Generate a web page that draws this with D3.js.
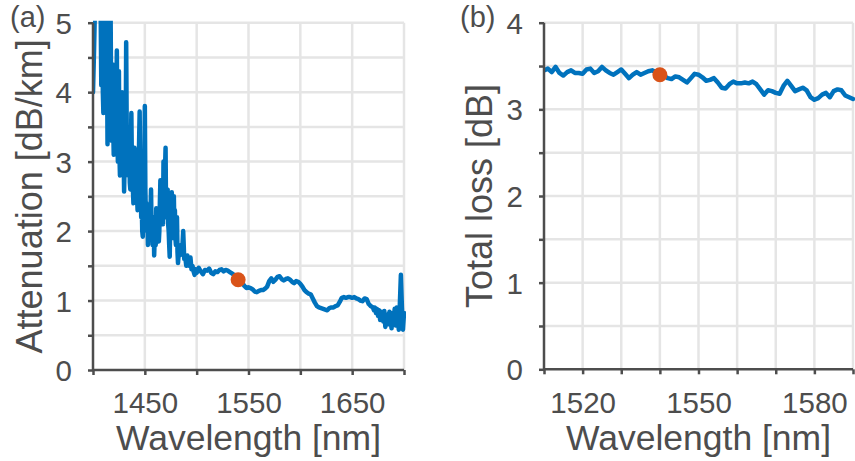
<!DOCTYPE html>
<html>
<head>
<meta charset="utf-8">
<script src="https://cdn.jsdelivr.net/npm/d3@7"></script>
<style>
  html, body { margin: 0; padding: 0; background: #fff; }
  svg { display: block; }
  text { font-family: "Liberation Sans", Arial, Helvetica, sans-serif; fill: #4d4d4d; }
</style>
</head>
<body>
<svg id="chart" width="855" height="461"></svg>
<script>
// (a) fibre attenuation spectrum: [wavelength nm, attenuation dB/km]
const attenuationA = [
  [1400,4.0],[1401,4.6],[1402,5.3],[1403,5.8],[1404,6.2],[1405,6.5],[1406,6.3],[1407,5.9],
  [1408,4.1],[1408.5,5.4],[1409,5.6],[1409.5,4.0],[1410,3.7],[1410.5,5.2],[1411,5.8],[1411.5,4.8],
  [1412,4.4],[1412.5,3.9],[1413,5.5],[1413.5,4.6],[1414,3.25],[1414.5,4.9],[1415,5.3],[1415.5,3.8],
  [1416,3.6],[1416.5,4.6],[1417,5.1],[1417.5,3.9],[1418,3.3],[1418.5,4.2],[1419,4.4],[1419.5,3.5],
  [1420,3.1],[1420.5,3.6],[1421,3.9],[1421.5,3.3],[1422,3.15],[1422.5,3.8],[1423,4.6],[1423.5,3.4],
  [1424,3.0],[1424.5,3.9],[1425,4.3],[1425.5,3.1],[1426,2.8],[1426.5,3.3],[1427,3.5],[1427.5,3.1],
  [1428,4.0],[1428.5,3.3],[1429,2.9],[1429.5,3.2],[1430,2.57],[1430.5,3.0],[1431,3.6],[1431.5,3.1],
  [1432,4.72],[1432.5,3.5],[1433,3.2],[1433.5,2.9],[1434,2.8],[1434.5,3.1],[1435,3.3],[1435.5,2.7],
  [1436,2.6],[1436.5,3.1],[1437,3.7],[1437.5,3.0],[1438,2.9],[1438.5,2.6],[1439,2.4],[1439.5,2.9],
  [1440,3.2],[1440.5,2.5],[1441,2.7],[1441.5,2.9],[1442,3.0],[1442.5,2.5],[1443,2.3],[1443.5,2.7],
  [1444,2.9],[1444.5,3.3],[1445,3.72],[1445.5,2.8],[1446,2.6],[1446.5,2.2],[1447,2.4],[1447.5,2.0],
  [1448,1.92],[1448.5,2.3],[1449,2.5],[1449.5,2.9],[1450,3.8],[1450.5,2.6],[1451,2.2],[1451.5,2.4],
  [1452,2.0],[1452.5,2.2],[1453,1.8],[1453.5,2.1],[1454,2.3],[1454.5,1.9],[1455,2.0],[1455.5,2.3],
  [1456,2.6],[1456.5,2.0],[1457,2.1],[1457.5,1.8],[1458,1.9],[1458.5,2.2],[1459,1.65],[1459.5,1.9],
  [1460,2.1],[1460.5,1.8],[1461,2.33],[1461.5,2.0],[1462,1.9],[1462.5,2.1],[1463,2.2],[1463.5,1.85],
  [1464,2.0],[1464.5,2.4],[1465,2.73],[1465.5,2.1],[1466,2.2],[1466.5,2.6],[1467,2.5],[1467.5,2.1],
  [1468,3.0],[1468.5,2.5],[1469,2.4],[1469.5,2.9],[1470,3.2],[1470.5,2.2],[1471,2.3],[1471.5,2.5],
  [1472,2.6],[1472.5,2.1],[1473,2.0],[1473.5,1.8],[1474,1.63],[1474.5,2.1],[1475,2.4],[1475.5,2.0],
  [1476,2.56],[1476.5,2.2],[1477,1.9],[1477.5,2.2],[1478,2.5],[1478.5,2.0],[1479,2.3],[1479.5,1.9],
  [1480,1.8],[1480.5,2.0],[1481,2.2],[1481.5,1.7],[1482,1.54],[1483,1.75],[1484,1.65],[1485,1.8],
  [1486,1.7],[1487,2.0],[1488,1.6],[1489,1.62],[1490,1.5],[1491,1.65],[1492,1.55],[1493,1.5],
  [1494,1.62],[1495,1.45],[1496,1.5],[1497,1.42],[1498,1.37],[1499,1.45],[1500,1.40],
  [1502,1.47],[1504,1.42],[1506,1.38],[1508,1.44],[1510,1.43],[1512,1.46],[1514,1.40],[1516,1.38],
  [1518,1.42],[1520,1.41],[1522,1.44],[1524,1.45],[1526,1.42],[1528,1.44],[1530,1.43],[1532,1.41],
  [1534,1.39],[1536,1.37],[1538,1.33],[1540,1.30],[1542,1.27],[1544,1.25],[1546,1.21],[1548,1.18],
  [1550,1.19],[1552,1.18],[1554,1.16],[1556,1.13],[1558,1.12],[1560,1.14],[1562,1.15],[1564,1.15],
  [1566,1.17],[1568,1.20],[1570,1.28],[1572,1.32],[1574,1.27],[1576,1.30],[1578,1.34],[1580,1.35],
  [1582,1.31],[1584,1.29],[1586,1.31],[1588,1.32],[1590,1.30],[1592,1.27],[1594,1.25],[1596,1.28],
  [1598,1.27],[1600,1.24],[1602,1.20],[1604,1.15],[1606,1.12],[1608,1.10],[1610,1.09],[1612,1.03],
  [1614,0.97],[1616,0.92],[1618,0.90],[1620,0.89],[1622,0.88],[1624,0.87],[1626,0.86],[1628,0.89],
  [1630,0.90],[1632,0.90],[1634,0.92],[1636,0.93],[1638,0.98],[1640,1.04],[1642,1.05],[1644,1.04],
  [1646,1.05],[1648,1.05],[1650,1.04],[1652,1.05],[1654,1.03],[1656,1.02],[1658,1.00],[1660,0.99],
  [1662,1.03],[1664,1.02],[1666,0.95],[1668,0.92],[1670,0.90],
  [1671,0.86],[1672,0.90],[1673,0.82],[1674,0.88],[1675,0.78],[1676,0.86],[1677,0.72],[1678,0.84],
  [1679,0.80],[1680,0.70],[1681,0.85],[1682,0.62],[1683,0.80],[1684,0.76],[1685,0.66],[1686,0.84],
  [1687,0.72],[1688,0.60],[1689,0.82],[1690,0.70],[1691,0.88],[1692,0.64],[1693,0.90],[1694,0.75],
  [1695,0.58],[1696,0.95],[1697,1.37],[1698,0.90],[1699,0.58],[1700,0.82]
];

// (b) total insertion loss: [wavelength nm, loss dB]
const lossB = [
  [1510,3.45],[1511,3.47],[1512,3.43],[1513,3.49],[1514,3.42],[1515,3.39],[1516,3.43],[1517,3.45],
  [1518,3.42],[1519,3.42],[1520,3.41],[1521,3.46],[1522,3.47],[1523,3.42],[1524,3.44],[1525,3.49],
  [1526,3.45],[1527,3.42],[1528,3.40],[1529,3.43],[1530,3.46],[1531,3.41],[1532,3.36],[1533,3.40],
  [1534,3.43],[1535,3.40],[1536,3.42],[1537,3.44],[1538,3.45],[1539,3.43],[1540,3.40],[1541,3.39],
  [1542,3.36],[1543,3.35],[1544,3.38],[1545,3.37],[1546,3.34],[1547,3.31],[1548,3.36],[1549,3.41],
  [1550,3.40],[1551,3.37],[1552,3.33],[1553,3.34],[1554,3.36],[1555,3.31],[1556,3.25],[1557,3.24],
  [1558,3.29],[1559,3.32],[1560,3.30],[1561,3.30],[1562,3.31],[1563,3.30],[1564,3.32],[1565,3.29],
  [1566,3.23],[1567,3.17],[1568,3.22],[1569,3.21],[1570,3.19],[1571,3.18],[1572,3.27],[1573,3.33],
  [1574,3.27],[1575,3.21],[1576,3.23],[1577,3.25],[1578,3.22],[1579,3.14],[1580,3.11],[1581,3.13],
  [1582,3.17],[1583,3.19],[1584,3.14],[1585,3.21],[1586,3.23],[1587,3.22],[1588,3.16],[1589,3.14],
  [1590,3.12]
];

// highlighted operating point at 1540 nm
const markerA = [1540, 1.30];
const markerB = [1540, 3.40];

// axis ranges and ticks
const xDomainA = [1400, 1700];
const xTicksA = [1400, 1450, 1500, 1550, 1600, 1650, 1700];
const xLabelsA = [1450, 1550, 1650];
const yDomainA = [0, 5];
const yTicksA = [0, 0.5, 1, 1.5, 2, 2.5, 3, 3.5, 4, 4.5, 5];
const yLabelsA = [0, 1, 2, 3, 4, 5];

const xDomainB = [1510, 1590];
const xTicksB = [1510, 1520, 1530, 1540, 1550, 1560, 1570, 1580, 1590];
const xLabelsB = [1520, 1550, 1580];
const yDomainB = [0, 4];
const yTicksB = [0, 0.5, 1, 1.5, 2, 2.5, 3, 3.5, 4];
const yLabelsB = [0, 1, 2, 3, 4];

const LINE = "#0072BD", DOT = "#D95319", AXIS = "#4d4d4d", GRID = "#e5e5e5";
const svg = d3.select("#chart");

function panel(opts) {
  const { id, left, right, top, bottom, xDomain, yDomain, xTicks, xLabels, yTicks, yLabels,
          data, marker, yTitle, yTitleX, tag, tagX } = opts;
  const x = d3.scaleLinear().domain(xDomain).range([left, right]);
  const y = d3.scaleLinear().domain(yDomain).range([bottom, top]);
  const g = svg.append("g");

  // grid
  g.append("g").selectAll("line").data(xTicks.filter(t => t !== xDomain[0])).join("line")
    .attr("x1", d => x(d)).attr("x2", d => x(d)).attr("y1", top).attr("y2", bottom)
    .attr("stroke", GRID).attr("stroke-width", 2.5);
  g.append("g").selectAll("line").data(yTicks.filter(t => t !== yDomain[0])).join("line")
    .attr("y1", d => y(d)).attr("y2", d => y(d)).attr("x1", left).attr("x2", right)
    .attr("stroke", GRID).attr("stroke-width", 2.5);

  // clipped data line
  svg.append("clipPath").attr("id", "clip-" + id).append("rect")
    .attr("x", left).attr("y", top - 2).attr("width", right - left + 2).attr("height", bottom - top + 2);
  const line = d3.line().x(d => x(d[0])).y(d => y(d[1]));
  g.append("path").datum(data).attr("d", line)
    .attr("clip-path", `url(#clip-${id})`)
    .attr("fill", "none").attr("stroke", LINE).attr("stroke-width", 4.5)
    .attr("stroke-linejoin", "round").attr("stroke-linecap", "round");

  g.append("circle").attr("cx", x(marker[0])).attr("cy", y(marker[1])).attr("r", 7.5).attr("fill", DOT);

  // axes
  const xAxis = d3.axisBottom(x).tickValues(xTicks).tickSize(5)
    .tickFormat(d => xLabels.includes(d) ? d : "");
  const yAxis = d3.axisLeft(y).tickValues(yTicks).tickSize(5)
    .tickFormat(d => yLabels.includes(d) ? d : "");
  const gx = g.append("g").attr("transform", `translate(0,${bottom})`).call(xAxis);
  const gy = g.append("g").attr("transform", `translate(${left},0)`).call(yAxis);
  [gx, gy].forEach(a => {
    a.select(".domain").attr("stroke", AXIS).attr("stroke-width", 2.5);
    a.selectAll(".tick line").attr("stroke", AXIS).attr("stroke-width", 2.5);
    a.selectAll(".tick text").attr("fill", AXIS).style("font-size", "29.5px")
      .style("font-family", '"Liberation Sans", Arial, sans-serif');
  });
  gx.select(".domain").attr("d", `M${left},0H${right}`);
  gy.select(".domain").attr("d", `M0,${top}V${bottom}`);
  gx.selectAll(".tick text").attr("dy", null).attr("y", 413 - bottom);
  gy.selectAll(".tick text").attr("x", -21).attr("dy", "0.36em");

  // titles
  g.append("text").attr("x", (left + right) / 2).attr("y", 450).attr("text-anchor", "middle")
    .style("font-size", "35.5px").text("Wavelength [nm]");
  g.append("text").attr("transform", `translate(${yTitleX},${(top + bottom) / 2}) rotate(-90)`)
    .attr("text-anchor", "middle").style("font-size", "36px").text(yTitle);
  g.append("text").attr("x", tagX).attr("y", 26.5).style("font-size", "29px").text(tag);
}

panel({ id: "a", left: 93, right: 404, top: 22.7, bottom: 370,
  xDomain: xDomainA, yDomain: yDomainA, xTicks: xTicksA, xLabels: xLabelsA,
  yTicks: yTicksA, yLabels: yLabelsA, data: attenuationA, marker: markerA,
  yTitle: "Attenuation [dB/km]", yTitleX: 42, tag: "(a)", tagX: 10 });

panel({ id: "b", left: 544, right: 853, top: 22.7, bottom: 369.3,
  xDomain: xDomainB, yDomain: yDomainB, xTicks: xTicksB, xLabels: xLabelsB,
  yTicks: yTicksB, yLabels: yLabelsB, data: lossB, marker: markerB,
  yTitle: "Total loss [dB]", yTitleX: 492, tag: "(b)", tagX: 460 });
</script>
</body>
</html>
